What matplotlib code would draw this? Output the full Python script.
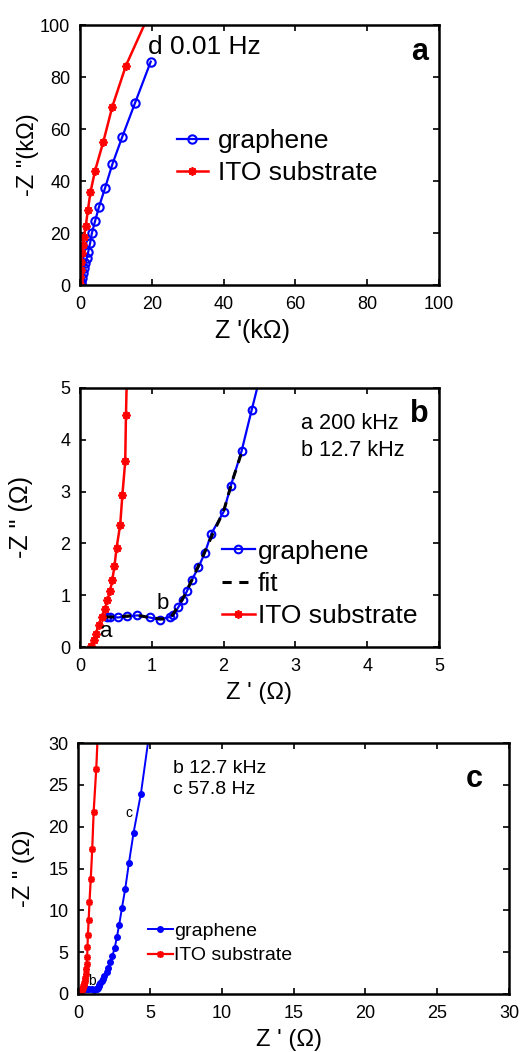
import matplotlib
matplotlib.use("Agg")
import matplotlib.pyplot as plt

plt.rcParams['font.family'] = ['Liberation Sans', 'DejaVu Sans']

# Panel a data (kOhm)
gra_a_x = [0.3, 0.4, 0.6, 0.8, 1.1, 1.5, 1.9, 2.3, 2.8, 3.3, 4.2, 5.3, 7.0, 9.0, 11.8, 15.3, 19.7]
gra_a_y = [0.4, 1.3, 2.6, 4.5, 6.4, 8.3, 10.3, 12.8, 16.0, 19.9, 24.6, 30.1, 37.4, 46.4, 57.1, 69.9, 85.9]
ito_a_x = [0.0, 0.1, 0.2, 0.4, 0.6, 0.8, 1.1, 1.6, 2.2, 2.9, 4.2, 6.5, 9.0, 12.8, 20.5]
ito_a_y = [0.5, 3.2, 5.8, 9.0, 12.2, 15.4, 18.6, 22.7, 28.8, 35.6, 44.0, 55.1, 68.6, 84.4, 108.0]

# Panels b and c data (Ohm)
gra_x = [0.37, 0.42, 0.53, 0.65, 0.80, 0.97, 1.11, 1.25, 1.30, 1.37, 1.43, 1.49, 1.56, 1.65,
         1.74, 1.83, 2.00, 2.10, 2.25, 2.39, 2.55, 2.71, 2.87, 3.06, 3.29, 3.54, 3.87, 4.38, 4.95]
gra_y = [0.58, 0.58, 0.57, 0.59, 0.61, 0.57, 0.53, 0.58, 0.61, 0.77, 0.91, 1.08, 1.30, 1.54,
         1.82, 2.19, 2.61, 3.11, 3.78, 4.57, 5.45, 6.84, 8.3, 10.3, 12.6, 15.6, 19.3, 23.96, 31.0]
ito_x = [0.15, 0.19, 0.22, 0.26, 0.30, 0.35, 0.38, 0.42, 0.45, 0.48, 0.51, 0.56, 0.59, 0.63,
         0.64, 0.66, 0.69, 0.74, 0.80, 0.89, 0.99, 1.09, 1.27, 1.40]
ito_y = [0.01, 0.13, 0.26, 0.42, 0.58, 0.74, 0.90, 1.08, 1.30, 1.56, 1.92, 2.36, 2.93, 3.59,
         4.47, 5.65, 7.0, 8.8, 11.0, 13.8, 17.3, 21.8, 26.9, 32.0]
fit_x = [0.35, 0.5, 0.7, 0.85, 1.0, 1.15, 1.27, 1.35, 1.45, 1.55, 1.70, 1.85, 2.00, 2.12, 2.25]
fit_y = [0.58, 0.58, 0.60, 0.60, 0.56, 0.54, 0.58, 0.75, 0.98, 1.27, 1.72, 2.19, 2.62, 3.2, 3.75]

a_ticks = [0, 20, 40, 60, 80, 100]
b_ticks = [0, 1, 2, 3, 4, 5]
c_ticks = [0, 5, 10, 15, 20, 25, 30]

BLUE = '#0000ff'
RED = '#ff0000'
AST = (8, 2, 0)

fig = plt.figure(figsize=(5.21, 10.52), dpi=100)

def style(ax, ticks, lim, fs):
    ax.set_xlim(*lim)
    ax.set_ylim(*lim)
    ax.set_xticks(ticks)
    ax.set_yticks(ticks)
    ax.tick_params(direction='in', top=True, right=True, length=4, width=1.2, labelsize=fs)
    ax.tick_params(axis='x', pad=8)
    ax.tick_params(axis='y', pad=7)
    for s in ax.spines.values():
        s.set_linewidth(1.8)

# Panel a
ax1 = fig.add_axes([80/521, 1-285/1052, 359/521, 260/1052])
ax1.plot(gra_a_x, gra_a_y, '-o', color=BLUE, mfc='none', ms=6, mew=1.5, lw=1.6, label='graphene')
ax1.plot(ito_a_x, ito_a_y, '-', marker=AST, color=RED, ms=6, mew=1.3, lw=1.8, label='ITO substrate')
style(ax1, a_ticks, (0, 100), 13)
ax1.set_xlabel("Z '(k\u03a9)", fontsize=18)
ax1.set_ylabel('-Z "(k\u03a9)', fontsize=17)
ax1.xaxis.set_label_coords(0.48, -0.13)
ax1.yaxis.set_label_coords(-0.115, 0.5)
ax1.text(19.0, 91.5, 'd 0.01 Hz', fontsize=19, va='center', ha='left')
ax1.text(94.5, 89.5, 'a', fontsize=22, fontweight='bold', va='center', ha='center')
ax1.legend(loc='upper left', bbox_to_anchor=(0.27, 0.60), frameon=False, fontsize=19,
           handlelength=1.17, handletextpad=0.38, labelspacing=0.3, borderpad=0, borderaxespad=0)

# Panel b
ax2 = fig.add_axes([80/521, 1-647/1052, 359/521, 259/1052])
ax2.plot(gra_x, gra_y, '-o', color=BLUE, mfc='none', ms=5.5, mew=1.5, lw=1.6, label='graphene')
ax2.plot(fit_x, fit_y, '--', color='black', lw=2.2, label='fit', dashes=(3, 2.5))
ax2.plot(ito_x, ito_y, '-', marker=AST, color=RED, ms=6, mew=1.3, lw=1.8, label='ITO substrate')
style(ax2, b_ticks, (0, 5), 13)
ax2.set_xlabel("Z ' (\u03a9)", fontsize=17)
ax2.set_ylabel('-Z " (\u03a9)', fontsize=18)
ax2.xaxis.set_label_coords(0.5, -0.135)
ax2.yaxis.set_label_coords(-0.13, 0.5)
ax2.text(0.36, 0.29, 'a', fontsize=16, va='center', ha='center')
ax2.text(1.15, 0.84, 'b', fontsize=16, va='center', ha='center')
ax2.text(3.08, 4.32, 'a 200 kHz', fontsize=15.6, va='center', ha='left')
ax2.text(3.08, 3.80, 'b 12.7 kHz', fontsize=15.6, va='center', ha='left')
ax2.text(4.73, 4.5, 'b', fontsize=22, fontweight='bold', va='center', ha='center')
ax2.legend(loc='upper left', bbox_to_anchor=(0.395, 0.415), frameon=False, fontsize=19,
           handlelength=1.25, handletextpad=0.11, labelspacing=0.32, borderpad=0, borderaxespad=0)

# Panel c
ax3 = fig.add_axes([78/521, 1-994/1052, 431/521, 251/1052])
ax3.plot(gra_x, gra_y, '-o', color=BLUE, ms=4, mew=1.0, lw=1.4, label='graphene')
ax3.plot(ito_x, ito_y, '-', marker=AST, color=RED, ms=5, mew=1.2, lw=1.6, label='ITO substrate')
style(ax3, c_ticks, (0, 30), 13)
ax3.set_xlabel("Z ' (\u03a9)", fontsize=17)
ax3.set_ylabel('-Z " (\u03a9)', fontsize=17)
ax3.xaxis.set_label_coords(0.49, -0.14)
ax3.yaxis.set_label_coords(-0.10, 0.5)
ax3.text(6.6, 26.9, 'b 12.7 kHz', fontsize=14, va='center', ha='left')
ax3.text(6.6, 24.4, 'c 57.8 Hz', fontsize=14, va='center', ha='left')
ax3.text(3.57, 21.6, 'c', fontsize=10, va='center', ha='center')
ax3.text(0.97, 1.5, 'b', fontsize=10, va='center', ha='center')
ax3.text(27.6, 25.7, 'c', fontsize=22, fontweight='bold', va='center', ha='center')
ax3.legend(loc='upper left', bbox_to_anchor=(0.162, 0.285), frameon=False, fontsize=14,
           handlelength=1.29, handletextpad=0.05, labelspacing=0.35, borderpad=0, borderaxespad=0)

fig.savefig('out.png', dpi=100)
